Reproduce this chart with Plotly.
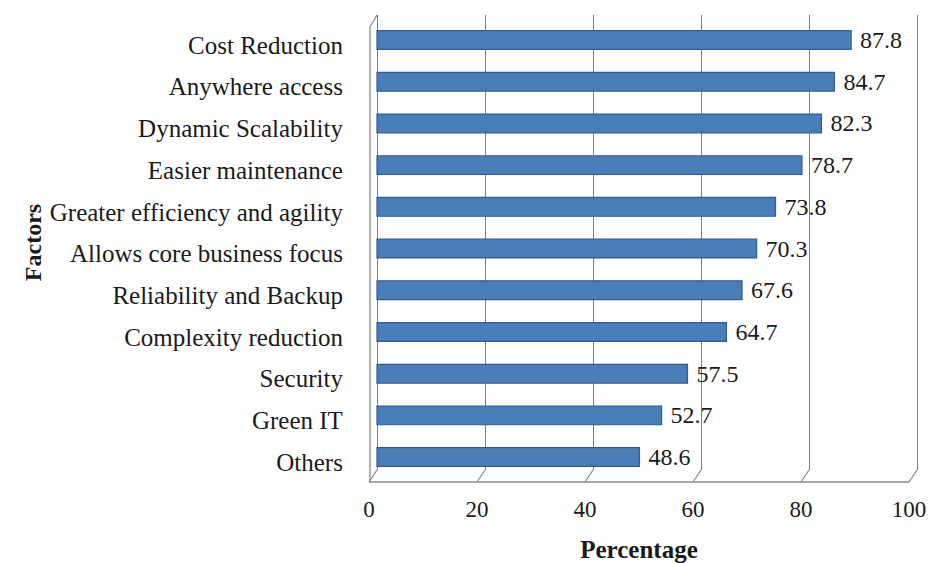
import plotly.graph_objects as go

categories = ["Cost Reduction", "Anywhere access", "Dynamic Scalability", "Easier maintenance",
              "Greater efficiency and agility", "Allows core business focus", "Reliability and Backup",
              "Complexity reduction", "Security", "Green IT", "Others"]
values = [87.8, 84.7, 82.3, 78.7, 73.8, 70.3, 67.6, 64.7, 57.5, 52.7, 48.6]
tick_vals = [0, 20, 40, 60, 80, 100]

W, H = 931, 563
FONT = "Liberation Serif, Times New Roman, serif"

# pixel layout helpers
back_x0, back_x1 = 377, 917     # back wall (gridlines, bars)
front_x0, front_x1 = 369, 909   # front floor edge (tick labels)
top_y, floor_back_y, floor_front_y = 15, 470, 482
pad = 1.5                        # range padding so edge gridlines/ticks show
ppu = (back_x1 - back_x0) / 100.0

def px(x):
    return x / W

def py(y):
    return 1 - y / H

fig = go.Figure()
fig.add_trace(go.Bar(
    y=categories, x=values, orientation="h",
    marker=dict(color="#4A7EBB", line=dict(color="#2E5C93", width=1.2)),
    width=0.45,
    text=[f"\u00a0{v:.1f}" for v in values], textposition="outside", constraintext="none",
    textfont=dict(family=FONT, size=24, color="#1a1a1a"),
    cliponaxis=False, xaxis="x", yaxis="y",
))
# invisible trace to host the front (floor) axis with tick labels
fig.add_trace(go.Scatter(x=[0, 100], y=[0, 0], mode="markers",
                         marker=dict(opacity=0), xaxis="x2", yaxis="y2", hoverinfo="skip",
                         showlegend=False))

shapes = []
line_style = dict(color="#8a8a8a", width=1.3)
shapes.append(dict(type="line", xref="paper", yref="paper",
                   x0=px(front_x0), x1=px(front_x1), y0=py(floor_front_y), y1=py(floor_front_y),
                   line=line_style))
for t in tick_vals:
    fx = front_x0 + (front_x1 - front_x0) * t / 100
    bx = back_x0 + (back_x1 - back_x0) * t / 100
    shapes.append(dict(type="line", xref="paper", yref="paper",
                       x0=px(fx), x1=px(bx), y0=py(floor_front_y), y1=py(floor_back_y),
                       line=line_style))
shapes.append(dict(type="line", xref="paper", yref="paper",
                   x0=px(front_x0 + 1), x1=px(front_x0 + 1), y0=py(floor_front_y), y1=py(top_y + 12),
                   line=line_style))
shapes.append(dict(type="line", xref="paper", yref="paper",
                   x0=px(front_x0 + 1), x1=px(back_x0), y0=py(top_y + 12), y1=py(top_y),
                   line=line_style))

fig.update_layout(
    width=W, height=H, margin=dict(l=0, r=0, t=0, b=0, autoexpand=False),
    paper_bgcolor="white", plot_bgcolor="rgba(0,0,0,0)",
    showlegend=False, bargap=0.6,
    font=dict(family=FONT, size=24, color="#1a1a1a"),
    xaxis=dict(domain=[px(back_x0 - pad * ppu), px(back_x1 + pad * ppu)], range=[-pad, 100 + pad],
               tickvals=tick_vals, automargin=False,
               showticklabels=False, showgrid=True, gridcolor="#7f7f7f", gridwidth=1.3,
               zeroline=False, showline=False, anchor="y"),
    xaxis2=dict(domain=[px(front_x0 - pad * ppu), px(front_x1 + pad * ppu)], range=[-pad, 100 + pad],
                tickvals=tick_vals, automargin=False,
                showgrid=False, zeroline=False, showline=False, anchor="y2",
                ticks="", ticklabelstandoff=11,
                tickfont=dict(family=FONT, size=23, color="#1a1a1a"),
                title=dict(text="<b>Percentage</b>", font=dict(family=FONT, size=25), standoff=20)),
    yaxis=dict(domain=[py(floor_back_y), py(top_y)], range=[10.31, -0.6], automargin=False,
               type="category", showgrid=False, zeroline=False, showline=False, ticks="",
               ticklabelstandoff=25, ticklabelshift=-5,
               tickfont=dict(family=FONT, size=25, color="#1a1a1a"),
               title=dict(text="<b>Factors</b>", font=dict(family=FONT, size=24), standoff=1)),
    yaxis2=dict(domain=[py(floor_front_y), py(floor_front_y - 5)], range=[0, 1],
                visible=False, anchor="x2", automargin=False),
    shapes=shapes,
)

fig.write_html("out.html")
